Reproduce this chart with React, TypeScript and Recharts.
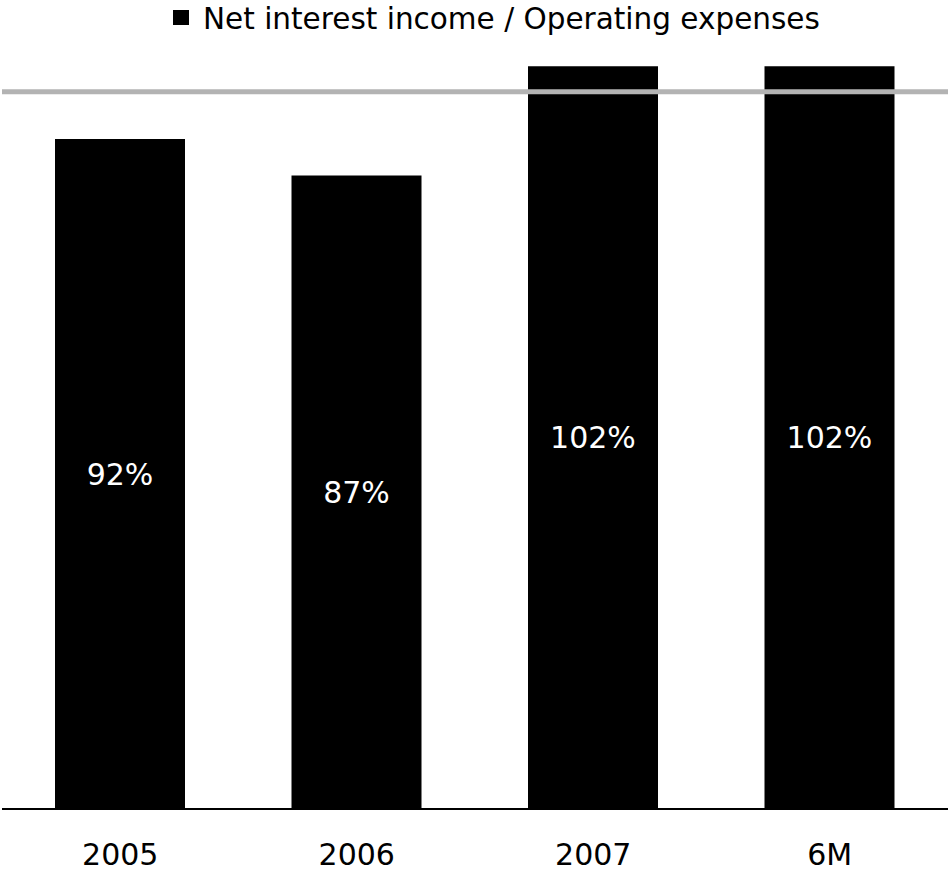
import { Bar, BarChart, LabelList, ReferenceLine, XAxis, YAxis } from 'recharts'

const categories = ['2005', '2006', '2007', '6M']
const ratios = [92, 87, 102, 102]
const benchmark = 98.5
const legendLabel = 'Net interest income / Operating expenses'

const data = categories.map((c, i) => ({ name: c, value: ratios[i] }))

const font = '"DejaVu Sans", Verdana, sans-serif'

export default function App() {
  return (
    <div style={{ position: 'absolute', left: 0, top: 0, width: 948, height: 872, background: '#fff' }}>
      <div
        style={{
          position: 'absolute',
          top: 2,
          left: 173,
          display: 'flex',
          alignItems: 'flex-start',
          fontFamily: font,
          fontSize: 29.5,
          lineHeight: '34px',
          color: '#000',
          whiteSpace: 'nowrap',
        }}
      >
        <span style={{ width: 16, height: 15, background: '#000', marginTop: 8, marginRight: 14, display: 'inline-block' }} />
        <span>{legendLabel}</span>
      </div>
      <BarChart width={948} height={872} data={data} margin={{ top: 8, right: 0, left: 2, bottom: 0 }}>
        <XAxis
          dataKey="name"
          height={63}
          tickLine={false}
          tickSize={0}
          tickMargin={35}
          axisLine={{ stroke: '#000', strokeWidth: 2 }}
          tick={{ fontSize: 30, fill: '#000', fontFamily: font }}
        />
        <YAxis hide domain={[0, 110]} />
        <Bar dataKey="value" fill="#000" barSize={130} isAnimationActive={false}>
          <LabelList
            dataKey="value"
            position="center"
            formatter={(v: any) => `${v}%`}
            style={{ fill: '#fff', fontSize: 30, fontFamily: font }}
          />
        </Bar>
        <ReferenceLine y={benchmark} stroke="#b3b3b3" strokeWidth={5} ifOverflow="extendDomain" />
      </BarChart>
    </div>
  )
}
